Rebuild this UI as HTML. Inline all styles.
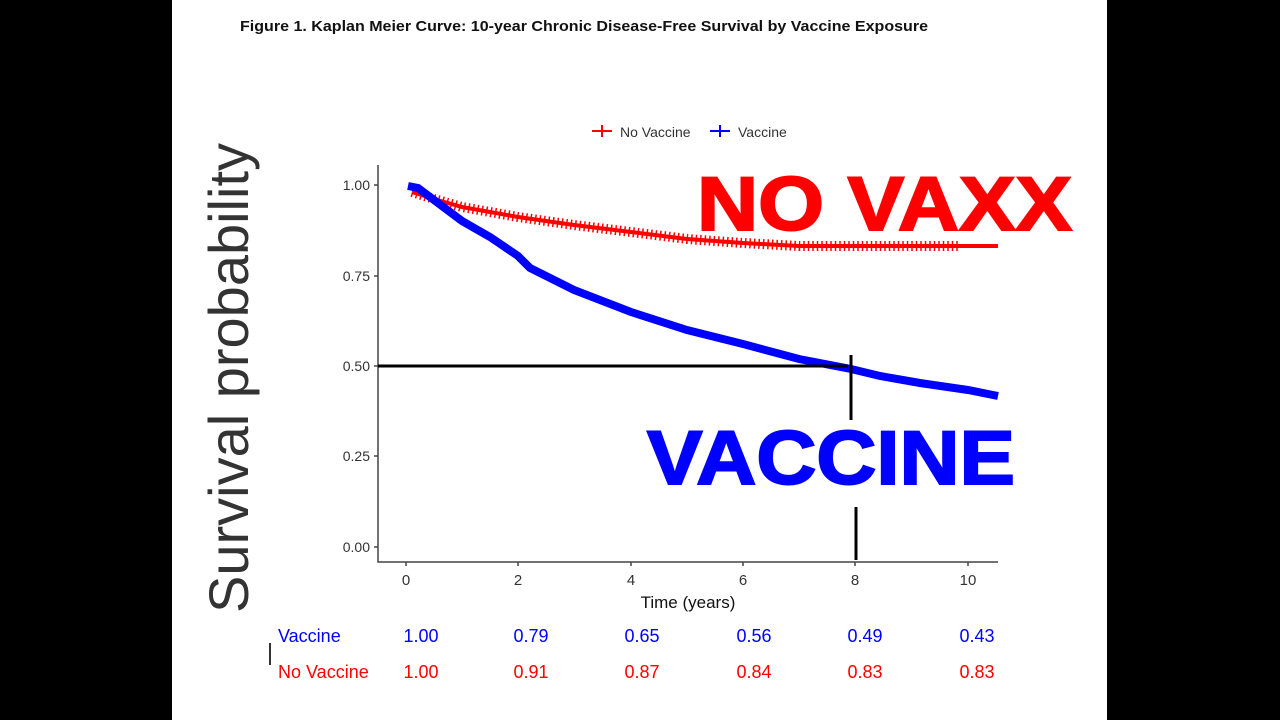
<!DOCTYPE html><html><head><style>
body{margin:0;width:1280px;height:720px;background:#000;overflow:hidden;font-family:"Liberation Sans",sans-serif}
#w{position:absolute;left:172px;top:0;width:935px;height:720px;background:#fff}
</style></head><body><div id="w"></div>
<svg width="1280" height="720" style="position:absolute;left:0;top:0" font-family="Liberation Sans, sans-serif">
<text x="240" y="31" font-size="15" font-weight="bold" fill="#111" textLength="688" lengthAdjust="spacingAndGlyphs">Figure 1. Kaplan Meier Curve: 10-year Chronic Disease-Free Survival by Vaccine Exposure</text>
<text transform="translate(248,378) rotate(-90)" text-anchor="middle" font-size="56" fill="#333" textLength="470" lengthAdjust="spacingAndGlyphs">Survival probability</text>
<g font-size="14" fill="#333">
<line x1="592" y1="131" x2="612" y2="131" stroke="red" stroke-width="2"/><line x1="602" y1="125" x2="602" y2="137" stroke="red" stroke-width="2"/>
<text x="620" y="137">No Vaccine</text>
<line x1="710" y1="131" x2="730" y2="131" stroke="blue" stroke-width="2"/><line x1="720" y1="125" x2="720" y2="137" stroke="blue" stroke-width="2"/>
<text x="738" y="137">Vaccine</text>
<text x="370" y="190" text-anchor="end">1.00</text><text x="370" y="281" text-anchor="end">0.75</text><text x="370" y="371" text-anchor="end">0.50</text><text x="370" y="461" text-anchor="end">0.25</text><text x="370" y="552" text-anchor="end">0.00</text>
<g text-anchor="middle" font-size="15"><text x="406" y="585">0</text><text x="518" y="585">2</text><text x="631" y="585">4</text><text x="743" y="585">6</text><text x="855" y="585">8</text><text x="968" y="585">10</text>
<text x="688" y="608" font-size="17" fill="#111">Time (years)</text></g>
</g>
<g stroke="#444" stroke-width="1.5" fill="none">
<path d="M378 165V562H998"/>
<path d="M374 185H378M374 276H378M374 366H378M374 456H378M374 547H378M406 562V566M518 562V566M631 562V566M743 562V566M855 562V566M968 562V566"/>
</g>
<polyline fill="none" stroke="red" stroke-width="4" points="412,192 434,199 462,207 518,217 574,225 631,232 687,239 743,243 799,246 998,246"/>
<polyline fill="none" stroke="red" stroke-width="10" stroke-dasharray="1.5 3" points="412,192 434,199 462,207 518,217 574,225 631,232 687,239 743,243 799,246 960,246"/>
<polyline fill="none" stroke="blue" stroke-width="8" points="408,186 418,188 434,200 462,221 490,237 518,256 530,268 574,290 631,312 687,330 743,344 799,359 851,369 880,376 920,383 968,390 998,396"/>
<g stroke="#000" stroke-width="3"><line x1="378" y1="366" x2="848" y2="366"/><line x1="851" y1="355" x2="851" y2="420"/><line x1="856" y1="507" x2="856" y2="560"/></g>
<text x="697" y="230" font-size="76" font-weight="bold" fill="red" textLength="375" lengthAdjust="spacingAndGlyphs" stroke="red" stroke-width="2">NO VAXX</text>
<text x="647" y="484" font-size="76" font-weight="bold" fill="blue" textLength="368" lengthAdjust="spacingAndGlyphs" stroke="blue" stroke-width="2">VACCINE</text>
<g font-size="18" text-anchor="middle">
<text x="278" y="642" fill="blue" text-anchor="start">Vaccine</text>
<text x="421" y="642" fill="blue">1.00</text><text x="531" y="642" fill="blue">0.79</text><text x="642" y="642" fill="blue">0.65</text><text x="754" y="642" fill="blue">0.56</text><text x="865" y="642" fill="blue">0.49</text><text x="977" y="642" fill="blue">0.43</text>
<text x="278" y="678" fill="red" text-anchor="start">No Vaccine</text>
<text x="421" y="678" fill="red">1.00</text><text x="531" y="678" fill="red">0.91</text><text x="642" y="678" fill="red">0.87</text><text x="754" y="678" fill="red">0.84</text><text x="865" y="678" fill="red">0.83</text><text x="977" y="678" fill="red">0.83</text>
</g>
<line x1="270" y1="643" x2="270" y2="665" stroke="#333" stroke-width="2"/>
</svg></body></html>
